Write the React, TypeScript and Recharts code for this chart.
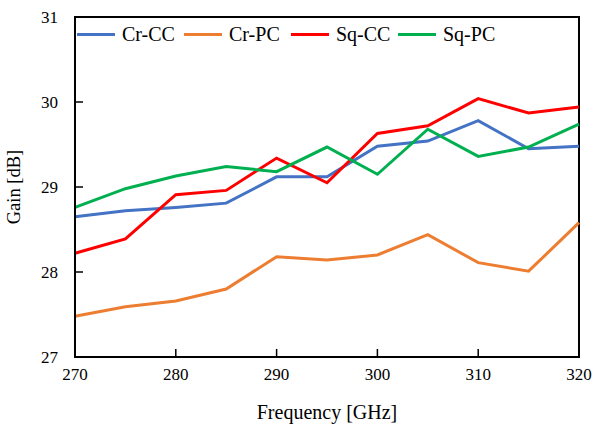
import { LineChart, Line, XAxis, YAxis, ReferenceArea } from "recharts"

const frequency = [270, 275, 280, 285, 290, 295, 300, 305, 310, 315, 320]
const crCC = [28.65, 28.72, 28.76, 28.81, 29.12, 29.12, 29.48, 29.54, 29.78, 29.45, 29.48]
const crPC = [27.48, 27.59, 27.66, 27.8, 28.18, 28.14, 28.2, 28.44, 28.11, 28.01, 28.58]
const sqCC = [28.22, 28.39, 28.91, 28.96, 29.34, 29.05, 29.63, 29.72, 30.04, 29.87, 29.94]
const sqPC = [28.76, 28.98, 29.13, 29.24, 29.18, 29.47, 29.15, 29.68, 29.36, 29.47, 29.74]

const xTicks = [270, 280, 290, 300, 310, 320]
const yTicks = [27, 28, 29, 30, 31]

const series = [
  { key: "crCC", name: "Cr-CC", color: "#4472C4" },
  { key: "crPC", name: "Cr-PC", color: "#ED7D31" },
  { key: "sqCC", name: "Sq-CC", color: "#FF0000" },
  { key: "sqPC", name: "Sq-PC", color: "#00B050" },
]

const data = frequency.map((f, i) => ({
  freq: f,
  crCC: crCC[i],
  crPC: crPC[i],
  sqCC: sqCC[i],
  sqPC: sqPC[i],
}))

const font = "'Liberation Serif', 'Times New Roman', serif"
const tickStyle = { fill: "#000", fontSize: 17, fontFamily: font }

const CustomLegend = () => (
  <div style={{ position: "absolute", top: 23, left: 77, display: "flex", fontFamily: font, fontSize: 20, color: "#000" }}>
    {series.map((s) => (
      <div key={s.key} style={{ width: 107, display: "flex", alignItems: "center" }}>
        <div style={{ width: 38, height: 3, background: s.color, marginRight: 7 }} />
        <span>{s.name}</span>
      </div>
    ))}
  </div>
)

export default function App() {
  return (
    <div style={{ position: "absolute", left: 0, top: 0, width: 605, height: 424, background: "#fff" }}>
      <LineChart width={605} height={424} data={data} margin={{ top: 17, right: 26, left: 0, bottom: 0 }}>
        <ReferenceArea x1={270} x2={320} y1={27} y2={31} fill="none" fillOpacity={0} stroke="#000" strokeWidth={2} />
        <XAxis
          dataKey="freq"
          type="number"
          domain={[270, 320]}
          ticks={xTicks}
          height={67}
          tickSize={-8}
          tickMargin={19}
          tickLine={{ stroke: "#000", strokeWidth: 1.5 }}
          axisLine={{ stroke: "#000", strokeWidth: 2 }}
          tick={tickStyle}
          label={{ value: "Frequency [GHz]", position: "insideBottom", offset: 5, style: { ...tickStyle, fontSize: 20 } }}
        />
        <YAxis
          domain={[27, 31]}
          ticks={yTicks}
          width={75}
          tickSize={-8}
          tickMargin={25}
          tickLine={{ stroke: "#000", strokeWidth: 1.5 }}
          axisLine={{ stroke: "#000", strokeWidth: 2 }}
          tick={tickStyle}
          label={{ value: "Gain [dB]", angle: -90, position: "insideLeft", offset: 13, style: { ...tickStyle, fontSize: 18.5, textAnchor: "middle" } }}
        />
        {series.map((s) => (
          <Line
            key={s.key}
            dataKey={s.key}
            name={s.name}
            stroke={s.color}
            strokeWidth={3}
            dot={false}
            isAnimationActive={false}
          />
        ))}
      </LineChart>
      <CustomLegend />
    </div>
  )
}
